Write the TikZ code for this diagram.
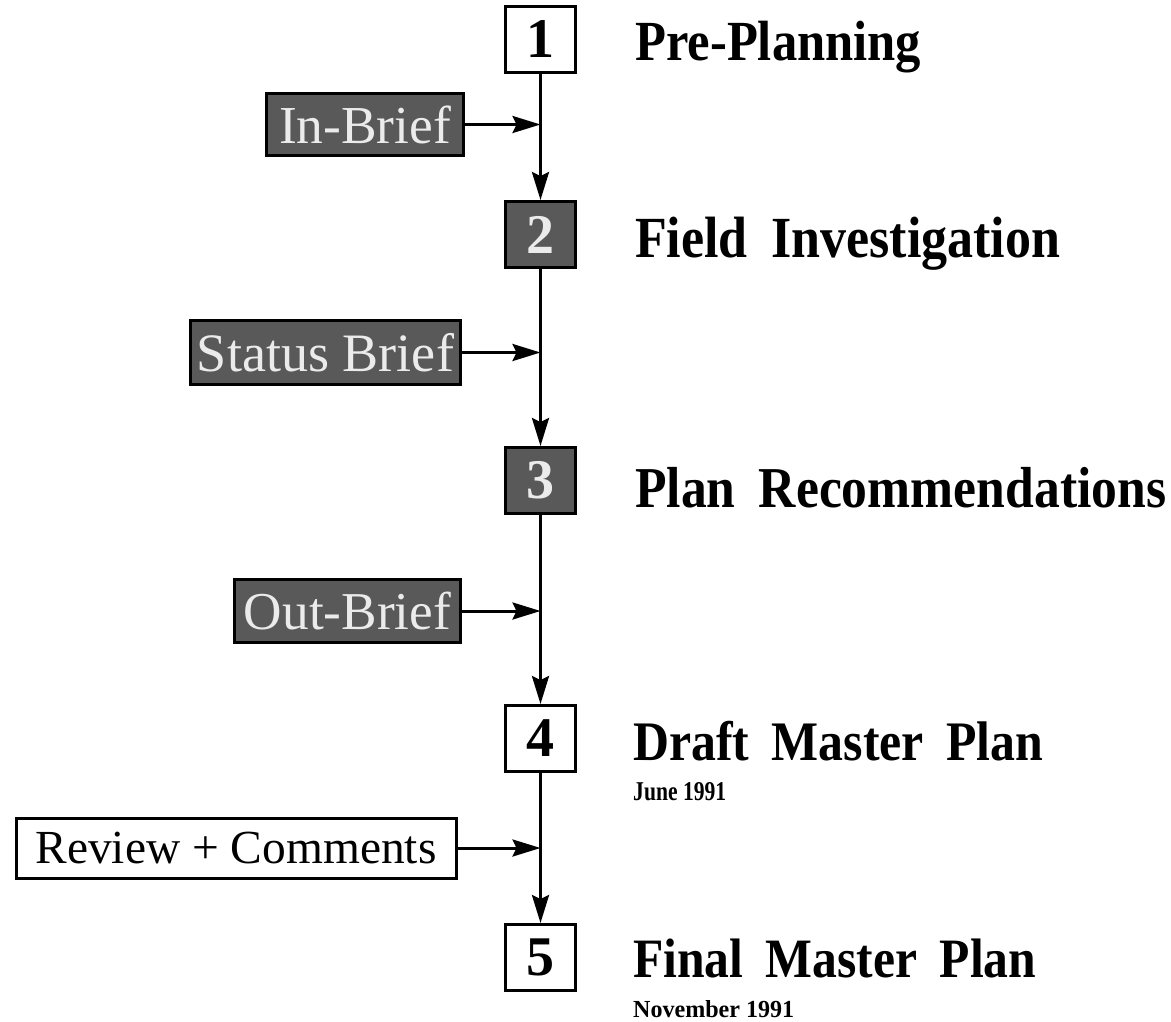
\documentclass[tikz,border=0pt]{standalone}
\usepackage{fontspec}
\setmainfont{Liberation Serif}
\usepackage{graphicx}
\usetikzlibrary{arrows.meta}
\newcommand\fitw[2]{\resizebox{#1}{!}{#2}}
\newcommand\fitt[2]{\scalebox{1}[1.12]{\resizebox{#1}{!}{#2}}}
\begin{document}
\begin{tikzpicture}[x=1pt,y=-1pt,
  numbox/.style={draw,line width=3pt,minimum width=70pt,minimum height=66pt,inner sep=0pt,fill=white,font=\bfseries\fontsize{56}{60}\selectfont},
  greynum/.style={numbox,fill=black!65,text=white!92!black},
  greybox/.style={draw,line width=3pt,fill=black!65,text=white!92!black,inner sep=0pt},
  whitebox/.style={draw,line width=3pt,fill=white,inner sep=0pt},
  flow/.style={line width=3pt,-{Stealth[length=28pt,width=17pt,inset=4pt]}},
  title/.style={anchor=base west,inner sep=0pt,font=\bfseries\fontsize{50}{60}\selectfont},
  subtitle/.style={anchor=base west,inner sep=0pt,font=\bfseries\fontsize{20}{24}\selectfont}
]
\useasboundingbox (0,0) rectangle (1171,1021);

% step boxes
\node[numbox]  (b1) at (540.5,39.5)  {1};
\node[greynum] (b2) at (540.5,234.5) {2};
\node[greynum] (b3) at (540.5,480.5) {3};
\node[numbox]  (b4) at (540.5,738.5) {4};
\node[numbox]  (b5) at (540.5,957.5) {5};

% titles
\node[title] (t1) at (635,60)  {\fitt{286pt}{Pre-Planning}};
\node[title] (t2) at (635,257) {\fitt{425pt}{Field\hspace{0.45em}Investigation}};
\node[title] (t3) at (635,507) {\fitt{531pt}{Plan\hspace{0.45em}Recommendations}};
\node[title] (t4) at (633,760) {\fitt{410pt}{Draft\hspace{0.45em}Master\hspace{0.45em}Plan}};
\node[title] (t5) at (633,977) {\fitt{403pt}{Final\hspace{0.45em}Master\hspace{0.45em}Plan}};
\node[subtitle] (d4) at (633,800)  {\resizebox{93pt}{18pt}{June 1991}};
\node[subtitle] (d5) at (633,1017) {\resizebox{161pt}{17pt}{November 1991}};

% inputs
\node[greybox,minimum width=197pt,minimum height=62pt] (inb) at (365,124.5)
  {\fitw{172pt}{\fontsize{40}{48}\selectfont In-Brief}};
\node[greybox,minimum width=270pt,minimum height=64pt] (stb) at (325.5,352.5)
  {\fitw{257pt}{\fontsize{40}{48}\selectfont Status Brief}};
\node[greybox,minimum width=226pt,minimum height=63pt] (outb) at (347.5,611)
  {\fitw{207pt}{\fontsize{40}{48}\selectfont Out-Brief}};
\node[whitebox,minimum width=440pt,minimum height=60pt] (rev) at (236,848)
  {\fitw{401pt}{\fontsize{40}{48}\selectfont Review + Comments}};

% junction points on the main line
\coordinate (j1) at (540.5,124.5);
\coordinate (j2) at (540.5,352.5);
\coordinate (j3) at (540.5,611);
\coordinate (j4) at (540.5,848);

% main flow
\draw[flow] (b1.south) -- (b2.north);
\draw[flow] (b2.south) -- (b3.north);
\draw[flow] (b3.south) -- (b4.north);
\draw[flow] (b4.south) -- (b5.north);

% side inputs
\draw[flow] (inb.east) -- (j1);
\draw[flow] (stb.east) -- (j2);
\draw[flow] (outb.east) -- (j3);
\draw[flow] (rev.east) -- (j4);
\end{tikzpicture}
\end{document}
